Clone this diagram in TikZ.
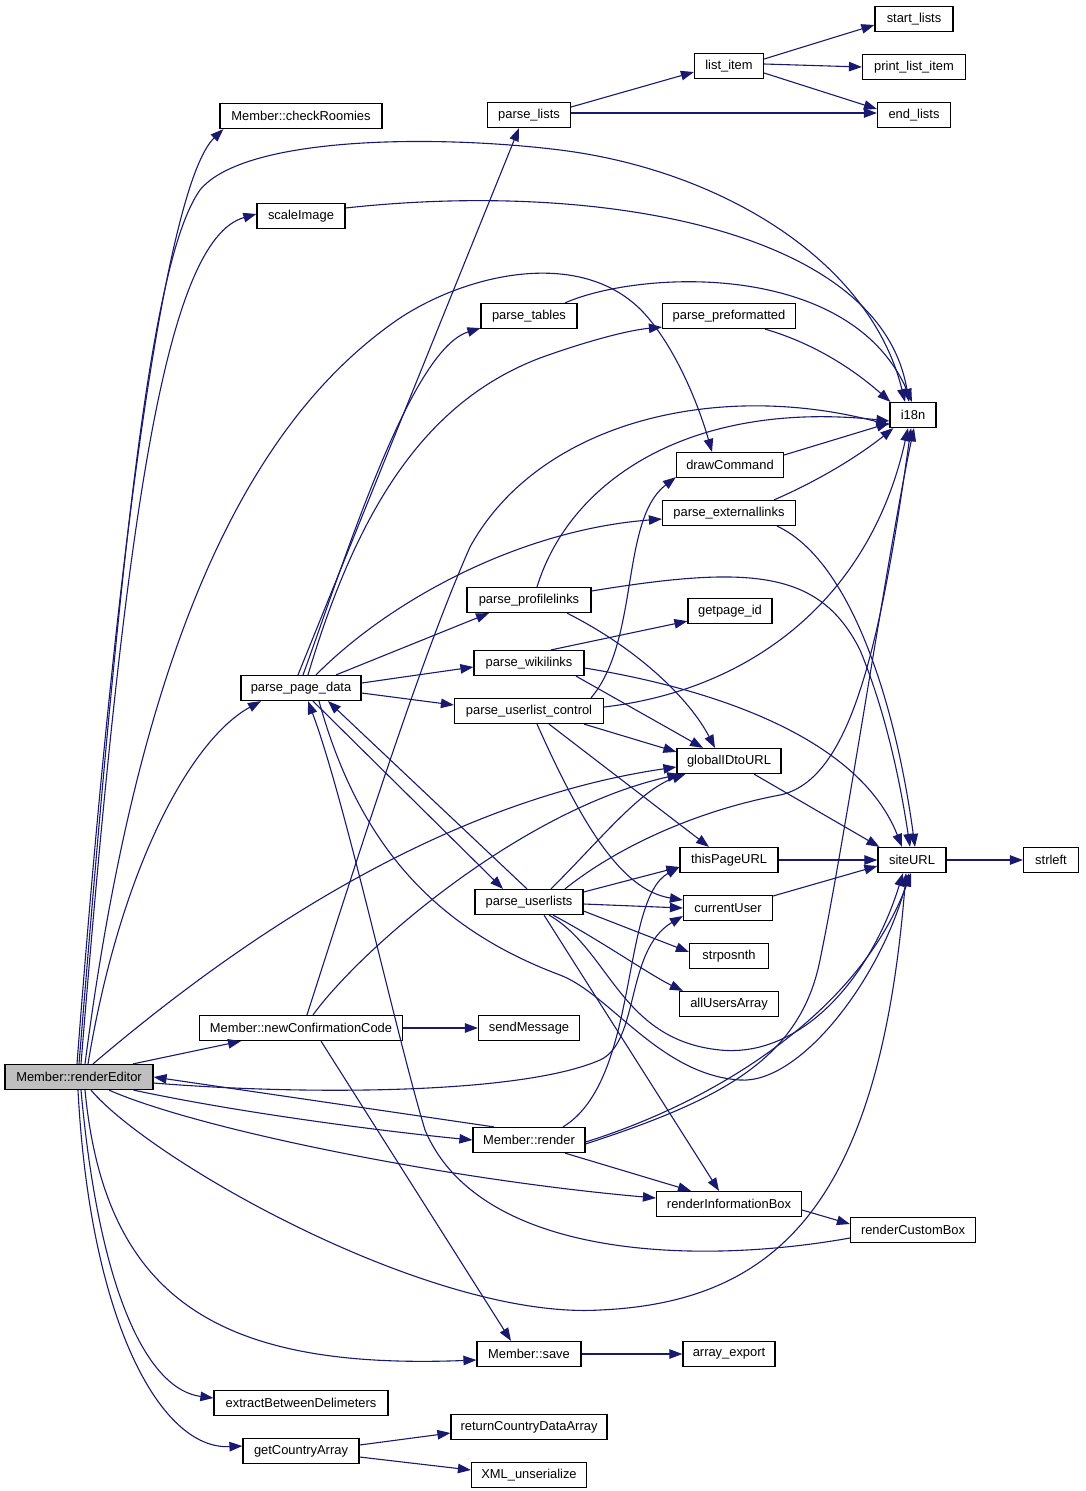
\documentclass[tikz,border=0pt]{standalone}
\usepackage{fontspec}
\setmainfont{Liberation Sans}
\usetikzlibrary{arrows.meta}
\definecolor{edgec}{HTML}{191970}
\definecolor{greyfill}{HTML}{BFBFBF}
\tikzset{
  box/.style={draw=black, fill=white, line width=1.2pt, minimum height=25pt, inner sep=0pt,
    font=\fontsize{12.9}{15}\selectfont},
  e/.style={draw=edgec, line width=1.1pt, -{Triangle[length=13pt,width=9.5pt]}},
}
\begin{document}
\begin{tikzpicture}[x=1pt,y=-1pt]
\useasboundingbox (0,0) rectangle (1085,1491);
\fill[white] (0,0) rectangle (1085,1491);
% nodes
\node[box, fill=greyfill, minimum width=148pt] (R) at (79,1077) {Member::renderEditor};
\node[box, minimum width=162pt] (chk) at (301,116) {Member::checkRoomies};
\node[box, minimum width=88pt] (scale) at (301,216) {scaleImage};
\node[box, minimum width=120pt] (ppd) at (301,688) {parse\_page\_data};
\node[box, minimum width=203pt] (ncc) at (301,1028) {Member::newConfirmationCode};
\node[box, minimum width=174pt] (ebd) at (301,1403) {extractBetweenDelimeters};
\node[box, minimum width=116pt] (gca) at (301,1451) {getCountryArray};
\node[box, minimum width=83pt] (plists) at (529,115) {parse\_lists};
\node[box, minimum width=96pt] (ptab) at (529,316) {parse\_tables};
\node[box, minimum width=124pt] (pprof) at (529,600) {parse\_profilelinks};
\node[box, minimum width=110pt] (pwiki) at (529,663) {parse\_wikilinks};
\node[box, minimum width=149pt] (puc) at (529,711) {parse\_userlist\_control};
\node[box, minimum width=108pt] (pul) at (529,902) {parse\_userlists};
\node[box, minimum width=101pt] (smsg) at (529,1028) {sendMessage};
\node[box, minimum width=112pt] (mrender) at (529,1140) {Member::render};
\node[box, minimum width=104pt] (msave) at (529,1354) {Member::save};
\node[box, minimum width=156pt] (rcda) at (529,1427) {returnCountryDataArray};
\node[box, minimum width=115pt] (xml) at (529,1475) {XML\_unserialize};
\node[box, minimum width=69pt] (litem) at (729,66) {list\_item};
\node[box, minimum width=133pt] (ppre) at (729,316) {parse\_preformatted};
\node[box, minimum width=107pt] (draw) at (730,465) {drawCommand};
\node[box, minimum width=133pt] (pext) at (729,513) {parse\_externallinks};
\node[box, minimum width=84pt] (gpid) at (730,611) {getpage\_id};
\node[box, minimum width=104pt] (gid) at (729,761) {globalIDtoURL};
\node[box, minimum width=98pt] (tpu) at (729,860) {thisPageURL};
\node[box, minimum width=89pt] (cu) at (728,908) {currentUser};
\node[box, minimum width=79pt] (spn) at (729,956) {strposnth};
\node[box, minimum width=99pt] (aua) at (729,1004) {allUsersArray};
\node[box, minimum width=145pt] (rib) at (729,1204) {renderInformationBox};
\node[box, minimum width=92pt] (arr) at (729,1354) {array\_export};
\node[box, minimum width=78pt] (sl) at (914,19) {start\_lists};
\node[box, minimum width=103pt] (pli) at (914,67) {print\_list\_item};
\node[box, minimum width=73pt] (el) at (914,115) {end\_lists};
\node[box, minimum width=46pt] (i18n) at (913,415) {i18n};
\node[box, minimum width=68pt] (site) at (912,860) {siteURL};
\node[box, minimum width=125pt] (rcb) at (913,1230) {renderCustomBox};
\node[box, minimum width=55pt] (strleft) at (1051,860) {strleft};

% --- edges from renderEditor
\draw[e] ([xshift=-2pt]R.north) .. controls (120,500) and (170,180) .. ([xshift=4pt]chk.south west);
\draw[e] (R.north) .. controls (120,560) and (150,260) .. (200,190)
   .. controls (245,135) and (440,135) .. (560,150)
   .. controls (720,170) and (870,260) .. ([xshift=-8pt]i18n.north);
\draw[e] ([xshift=2pt]R.north) .. controls (125,520) and (165,240) .. ([yshift=2pt]scale.west);
\draw[e] ([xshift=6pt]R.north) .. controls (140,640) and (250,420) .. (400,318)
   .. controls (470,272) and (590,245) .. (650,320)
   .. controls (680,357) and (700,410) .. ([xshift=-18pt]draw.north);
\draw[e] ([xshift=9pt]R.north) .. controls (120,870) and (190,740) .. ([xshift=-40pt]ppd.south);
\draw[e] ([xshift=14pt]R.north) .. controls (250,930) and (450,800) .. ([yshift=-6pt]gid.west);
\draw[e] ([xshift=54pt]R.north) -- ([xshift=-60pt]ncc.south);
\draw[e] ([yshift=-6pt]R.east) .. controls (300,1095) and (520,1095) .. (600,1060)
   .. controls (640,1042) and (625,950) .. ([yshift=-8pt]cu.west);
\draw[e] ([xshift=-35pt]mrender.north) -- (R.east);
\draw[e] ([xshift=-20pt]R.south east) .. controls (250,1115) and (400,1133) .. (mrender.west);
\draw[e] ([xshift=30pt]R.south) .. controls (200,1130) and (450,1180) .. ([yshift=6pt]rib.west);
\draw[e] ([xshift=12pt]R.south) .. controls (150,1160) and (430,1320) .. (600,1310)
   .. controls (780,1302) and (880,1200) .. ([xshift=-6pt]site.south);
\draw[e] ([xshift=6pt]R.south) .. controls (105,1300) and (220,1370) .. ([yshift=-6pt]msave.west);
\draw[e] ([xshift=2pt]R.south) .. controls (100,1300) and (150,1390) .. ([yshift=5pt]ebd.west);
\draw[e] ([xshift=-1pt]R.south) .. controls (90,1320) and (160,1450) .. ([yshift=5pt]gca.west);

% --- getCountryArray, save, confirmation code
\draw[e] ([yshift=6pt]gca.east) -- ([yshift=-6pt]rcda.west);
\draw[e] ([yshift=-6pt]gca.east) -- ([yshift=5pt]xml.west);
\draw[e] (msave.east) -- (arr.west);
\draw[e] (ncc.east) -- (smsg.west);
\draw[e] ([xshift=20pt]ncc.south) -- ([xshift=-18pt]msave.north);
\draw[e] ([xshift=12pt]ncc.north) .. controls (360,950) and (520,810) .. ([xshift=4pt]gid.south west);
\draw[e] ([xshift=6pt]ncc.north) .. controls (360,850) and (420,660) .. (470,547)
   .. controls (540,420) and (720,380) .. ([yshift=-10pt]i18n.west);

% --- parse_page_data
\draw[e] ([xshift=-3pt]ppd.north) -- ([xshift=-10pt]plists.south);
\draw[e] ([xshift=2pt]ppd.north) .. controls (345,560) and (410,350) .. ([yshift=1pt]ptab.south west);
\draw[e] ([xshift=7pt]ppd.north) .. controls (360,500) and (430,400) .. (540,358)
   .. controls (590,340) and (630,330) .. ([yshift=2pt]ppre.south west);
\draw[e] ([xshift=15pt]ppd.north) .. controls (390,600) and (520,530) .. ([yshift=-6pt]pext.west);
\draw[e] ([xshift=35pt]ppd.north) -- ([xshift=-40pt]pprof.south);
\draw[e] ([yshift=5pt]ppd.east) -- ([yshift=-4pt]pwiki.west);
\draw[e] ([yshift=-5pt]ppd.east) -- ([yshift=6pt]puc.west);
\draw[e] ([xshift=12pt]ppd.south) -- ([xshift=-26pt]pul.north);
\draw[e] ([xshift=-2pt]pul.north) -- ([xshift=27pt]ppd.south);
\draw[e] ([xshift=18pt]ppd.south) .. controls (360,850) and (440,930) .. (560,975)
   .. controls (610,994) and (660,1075) .. (740,1080)
   .. controls (800,1084) and (880,980) .. ([xshift=-3pt]site.south);
\draw[e] ([yshift=-8pt]rcb.west) .. controls (700,1265) and (480,1260) .. (425,1130)
   .. controls (395,1030) and (345,800) .. ([xshift=7pt]ppd.south);

% --- lists
\draw[e] ([yshift=8pt]plists.east) -- ([yshift=-6pt]litem.west);
\draw[e] ([yshift=2pt]plists.east) -- ([yshift=2pt]el.west);
\draw[e] ([yshift=7pt]litem.east) -- ([yshift=-6pt]sl.west);
\draw[e] ([yshift=2pt]litem.east) -- (pli.west);
\draw[e] ([yshift=-7pt]litem.east) -- ([yshift=6pt]el.west);

% --- into i18n
\draw[e] ([yshift=8pt]scale.east) .. controls (600,180) and (880,230) .. ([xshift=-4pt]i18n.north);
\draw[e] ([xshift=36pt]ptab.north) .. controls (640,270) and (850,260) .. ([xshift=-1pt]i18n.north);
\draw[e] ([xshift=36pt]ppre.south) .. controls (820,345) and (860,375) .. ([xshift=1pt]i18n.north west);
\draw[e] ([xshift=8pt]pprof.north) .. controls (570,480) and (690,400) .. ([yshift=-6pt]i18n.west);
\draw[e] ([yshift=10pt]draw.east) -- ([yshift=-8pt]i18n.west);
\draw[e] ([xshift=45pt]pext.north) .. controls (820,480) and (860,455) .. ([xshift=4pt]i18n.south west);
\draw[e] ([yshift=4pt]puc.east) .. controls (750,690) and (870,600) .. ([xshift=-5pt]i18n.south);
\draw[e] ([xshift=36pt]pul.north) .. controls (620,845) and (700,810) .. (780,795)
   .. controls (850,780) and (880,650) .. ([xshift=-2pt]i18n.south);
\draw[e] ([yshift=-4pt]mrender.east) .. controls (720,1100) and (800,1060) .. (820,960)
   .. controls (845,840) and (890,540) .. ([xshift=1pt]i18n.south);

% --- drawCommand, getpage_id, globalIDtoURL
\draw[e] ([xshift=62pt]puc.north) .. controls (640,640) and (620,520) .. ([yshift=1pt]draw.south west);
\draw[e] ([xshift=22pt]pwiki.north) -- ([yshift=3pt]gpid.south west);
\draw[e] ([xshift=47pt]pwiki.south) -- ([xshift=-26pt]gid.north);
\draw[e] ([xshift=38pt]pprof.south) .. controls (640,650) and (690,700) .. ([xshift=-14pt]gid.north);
\draw[e] ([xshift=55pt]puc.south) -- ([yshift=-4pt]gid.north west);
\draw[e] ([xshift=22pt]pul.north) .. controls (600,840) and (640,790) .. ([xshift=9pt]gid.south west);

% --- into siteURL
\draw[e] ([yshift=-5pt]pwiki.east) .. controls (720,690) and (860,740) .. ([xshift=-10pt]site.north);
\draw[e] ([yshift=9pt]pprof.east) .. controls (750,565) and (820,570) .. (860,650)
   .. controls (885,710) and (900,780) .. ([xshift=-2pt]site.north);
\draw[e] ([xshift=48pt]pext.south) .. controls (850,560) and (895,700) .. ([xshift=3pt]site.north);
\draw[e] ([xshift=25pt]gid.south) -- ([xshift=2pt]site.north west);
\draw[e] (tpu.east) -- (site.west);
\draw[e] ([yshift=12pt]cu.east) -- ([yshift=-6pt]site.west);
\draw[e] (site.east) -- (strleft.west);
\draw[e] ([xshift=20pt]pul.south) .. controls (610,950) and (620,1040) .. (720,1050)
   .. controls (800,1058) and (870,980) .. ([xshift=-9pt]site.south);
\draw[e] ([yshift=-2pt]mrender.east) .. controls (720,1100) and (860,1010) .. ([xshift=-1pt]site.south);

% --- parse_userlist_control
\draw[e] ([xshift=20pt]puc.south) -- ([xshift=-20pt]tpu.north);
\draw[e] ([xshift=8pt]puc.south) .. controls (580,820) and (620,890) .. ([yshift=8pt]cu.west);

% --- parse_userlists
\draw[e] ([yshift=10pt]pul.east) -- ([yshift=-7pt]tpu.west);
\draw[e] ([yshift=-2pt]pul.east) -- (cu.west);
\draw[e] ([yshift=-9pt]pul.east) -- ([yshift=4pt]spn.west);
\draw[e] ([xshift=24pt]pul.south) .. controls (600,940) and (650,975) .. ([xshift=4pt]aua.north west);
\draw[e] ([xshift=15pt]pul.south) -- ([xshift=-10pt]rib.north);

% --- Member::render etc
\draw[e] ([xshift=34pt]mrender.north) .. controls (640,1080) and (620,900) .. ([yshift=-7pt]tpu.west);
\draw[e] ([xshift=36pt]mrender.south) -- ([xshift=-38pt]rib.north);
\draw[e] ([yshift=-6pt]rib.east) -- ([yshift=6pt]rcb.west);
\end{tikzpicture}
\end{document}
